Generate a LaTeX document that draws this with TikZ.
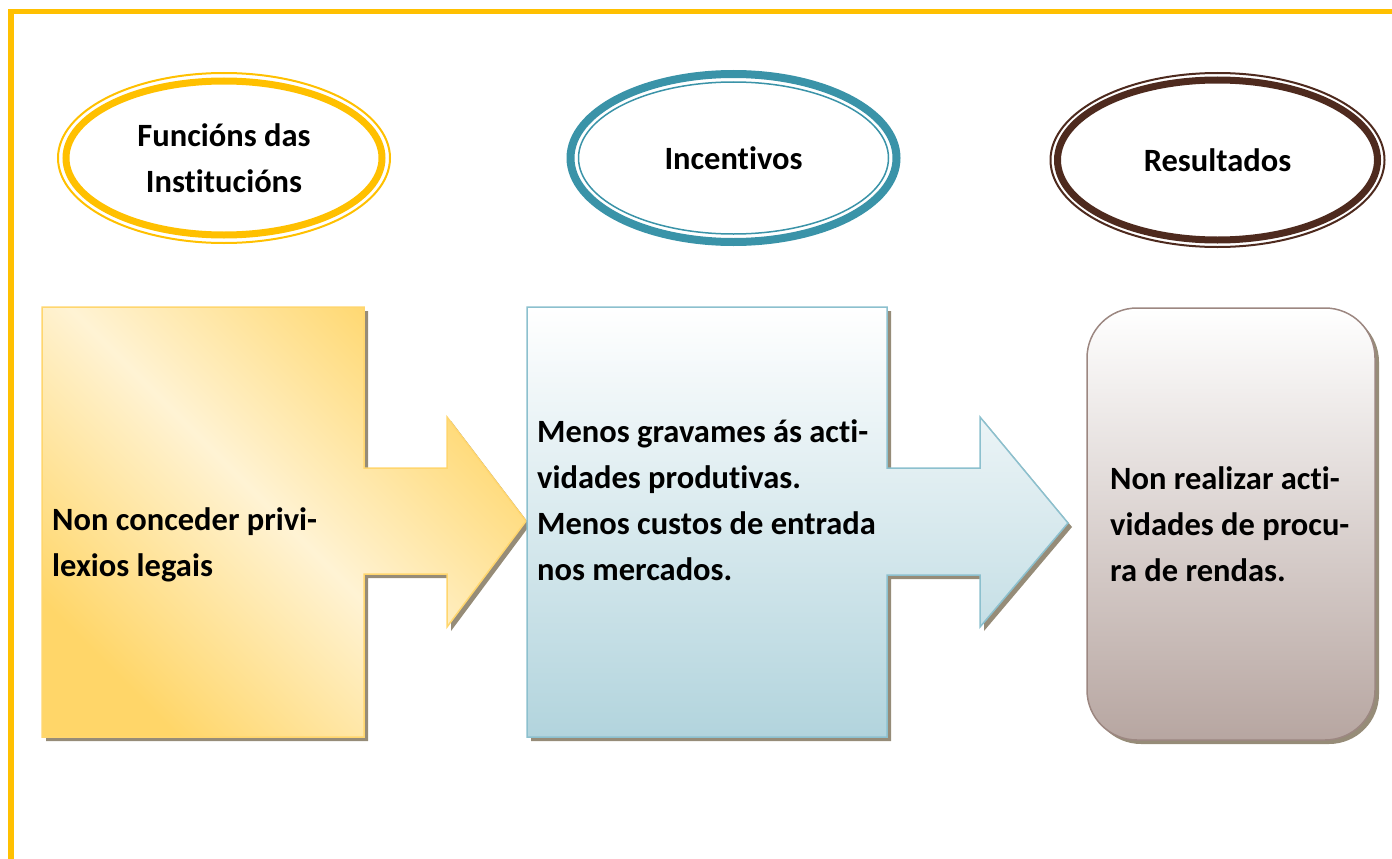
\documentclass[tikz,border=0pt]{standalone}
\usepackage{fontspec}
\setmainfont[Ligatures=NoCommon]{Carlito}
\usetikzlibrary{shapes.geometric}
\definecolor{gold}{RGB}{255,192,0}
\definecolor{teal2}{RGB}{58,147,168}
\definecolor{brown2}{RGB}{78,42,30}
\definecolor{orline}{RGB}{255,214,110}
\definecolor{ordark}{RGB}{255,214,105}
\definecolor{orlight}{RGB}{255,243,212}
\definecolor{blline}{RGB}{140,192,206}
\definecolor{blfill}{RGB}{178,212,221}
\definecolor{brline}{RGB}{156,135,129}
\definecolor{brfill}{RGB}{183,166,161}
\definecolor{shadowcol}{RGB}{150,140,120}

\begin{document}
\begin{tikzpicture}[x=1pt, y=-1pt,
	ring/.style={ellipse, draw, inner sep=0pt},
	label/.style={font=\bfseries\fontsize{32.5}{46}\selectfont, align=center},
	boxtext/.style={font=\bfseries\fontsize{32.5}{46}\selectfont, align=left, anchor=west, inner sep=0pt}]
			\useasboundingbox (0,0) rectangle (1392,859);
			%frame
			\draw[gold, line width=5.5] (11,859) -- (11,11.5) -- (1392,11.5);
			%ellipses
			\node[ring, gold, line width=2, minimum width=332, minimum height=170] (funring) at (224,158) {};
			\node[ring, gold, line width=7, minimum width=316, minimum height=154, text=black, label] (fun) at (224,158) {Funcións das\\Institucións};
			\node[ring, teal2, line width=8, minimum width=326, minimum height=168, text=black, label] (inc) at (733.5,158) {Incentivos};
			\node[ring, teal2, line width=1.5, minimum width=310, minimum height=152] (incring) at (733.5,158) {};
			\node[ring, brown2, line width=2, minimum width=334, minimum height=174] (resring) at (1217.5,160) {};
			\node[ring, brown2, line width=7, minimum width=320, minimum height=160, text=black, label] (res) at (1217.5,160) {Resultados};
			%shadows
			\fill[shadowcol] (46,311) -- (368,311) -- (368,472) -- (451,472) -- (451,421) -- (530,525) -- (451,631) -- (451,578) -- (368,578) -- (368,741) -- (46,741) -- cycle;
			\fill[shadowcol] (531,311) -- (891,311) -- (891,472) -- (984,472) -- (984,421) -- (1072,527) -- (984,631) -- (984,579) -- (891,579) -- (891,741) -- (531,741) -- cycle;
			\fill[shadowcol, rounded corners=50] (1091,312) rectangle (1379,744);
			%orange arrow
			\draw[orline, line width=1.5, top color=ordark, bottom color=ordark, middle color=orlight, shading angle=-45] (42,307) -- (364,307) -- (364,468) -- (447,468) -- (447,417) -- (526,521) -- (447,627) -- (447,574) -- (364,574) -- (364,737) -- (42,737) -- cycle;
			%blue arrow
			\draw[blline, line width=1.5, top color=white, bottom color=blfill] (527,307) -- (887,307) -- (887,468) -- (980,468) -- (980,417) -- (1068,523) -- (980,627) -- (980,575) -- (887,575) -- (887,737) -- (527,737) -- cycle;
			%result box
			\draw[brline, line width=1.5, rounded corners=50, top color=white, bottom color=brfill] (1087,308) rectangle (1375,740);
			%texts
			\node[boxtext] (t1) at (52,545) {Non conceder privi-\\lexios legais};
			\node[boxtext] (t2) at (537,500) {Menos gravames ás acti-\\vidades produtivas.\\Menos custos de entrada\\nos mercados.};
			\node[boxtext] (t3) at (1110,524) {Non realizar acti-\\vidades de procu-\\ra de rendas.};
		\end{tikzpicture}
\end{document}
